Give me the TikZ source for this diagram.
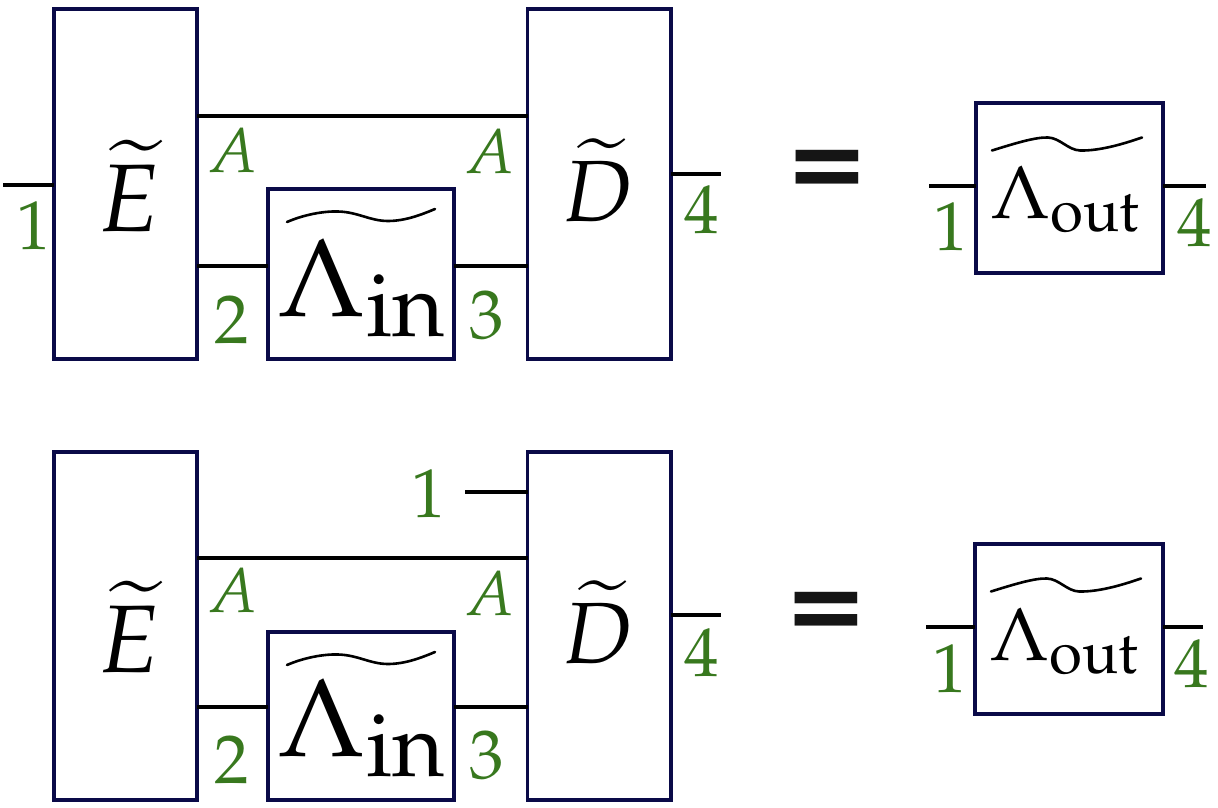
\documentclass[tikz,border=0pt]{standalone}
\usepackage[no-math]{fontspec}
\newfontfamily\eqfont{DejaVu Sans}
\usepackage{mathpazo}
\usetikzlibrary{calc}
\definecolor{boxnavy}{RGB}{10,10,72}
\definecolor{lblgreen}{RGB}{56,120,30}
\definecolor{eqblack}{RGB}{21,21,21}
\newcommand{\fsz}[1]{\fontsize{#1}{#1}\selectfont}
\newcommand{\LamIn}{{\fsz{111}$\Lambda$}\raisebox{-20pt}{\fsz{90}$\mathrm{in}$}}
\newcommand{\LamOut}{{\fsz{75}$\Lambda$}\raisebox{-13pt}{\fsz{60}$\mathrm{out}$}}
\newcommand{\tildeIn}[1]{\begin{scope}[shift={(#1.north west)}]
  \draw[tld] (19,33) .. controls (35,26) and (55,22) .. (70,22.5)
    .. controls (90,23) and (102,32) .. (120,32)
    .. controls (138,32) and (155,25) .. (167,20);\end{scope}}
\newcommand{\tildeOut}[1]{\begin{scope}[shift={(#1.north west)}]
  \draw[tld] (16,47.5) .. controls (40,40) and (60,34) .. (72,34.5)
    .. controls (84,35) and (92,47) .. (104,47.5)
    .. controls (125,48) and (150,40) .. (166,34.5);\end{scope}}
\tikzset{
  blk/.style={draw=boxnavy,line width=3.2pt,inner sep=0pt,outer sep=0pt},
  wire/.style={draw=black,line width=3.4pt},
  tld/.style={draw=black,line width=2.6pt,line cap=round},
  num/.style={text=lblgreen,inner sep=0pt,anchor=base,font=\fsz{69}},
  alabel/.style={text=lblgreen,inner sep=0pt,anchor=base,font=\fsz{63}},
  big/.style={inner sep=0pt,anchor=base},
  eqsign/.style={inner sep=0pt,text=eqblack,font=\eqfont\bfseries\fsz{100}},
}
\begin{document}
\begin{tikzpicture}[x=1pt,y=-1pt]
\useasboundingbox (0,0) rectangle (1218,808);
% ---------- top row ----------
\node[blk,minimum width=143,minimum height=350] (E1) at (125.5,184) {};
\node[blk,minimum width=186,minimum height=170] (Lin1) at (361,274) {};
\node[blk,minimum width=143.5,minimum height=350] (D1) at (599.25,184) {};
\node[blk,minimum width=187,minimum height=170] (Lout1) at (1069.5,188) {};
\node[big,font=\fsz{96}] (E1t) at (129,231) {$\widetilde{E}$};
\node[big,font=\fsz{87}] (D1t) at (597.5,221) {$\widetilde{D}$};
\node[big] (Lin1t) at (361,316) {\LamIn};
\node[big] (Lout1t) at (1065,218) {\LamOut};
\tildeIn{Lin1}
\tildeOut{Lout1}
\node[eqsign] (eq1) at (827,174.5) {=};
\coordinate (in1) at (3,185);
\coordinate (out1) at (721,174);
\coordinate (in1r) at (929,186);
\coordinate (out1r) at (1206,186);
\draw[wire] (in1) -- (E1.west |- in1);
\draw[wire] ($(E1.north east)+(0,107)$) -- ($(D1.north west)+(0,107)$);
\draw[wire] ($(E1.east |- Lin1.west)+(0,-8)$) -- ($(Lin1.west)+(0,-8)$);
\draw[wire] ($(Lin1.east)+(0,-8)$) -- ($(D1.west |- Lin1.east)+(0,-8)$);
\draw[wire] (D1.east |- out1) -- (out1);
\draw[wire] (in1r) -- (Lout1.west |- in1r);
\draw[wire] (Lout1.east |- out1r) -- (out1r);
\node[num] (l1a) at (33.5,249) {$1$};
\node[alabel] (lA1) at (233,172) {$A$};
\node[alabel] (lA2) at (490,173) {$A$};
\node[num] (l2a) at (232,343) {$2$};
\node[num] (l3a) at (486.5,338) {$3$};
\node[num] (l4a) at (702,233) {$4$};
\node[num] (l1b) at (951,250) {$1$};
\node[num] (l4b) at (1194.5,246) {$4$};
% ---------- bottom row ----------
\node[blk,minimum width=143,minimum height=348] (E2) at (125.5,626) {};
\node[blk,minimum width=186,minimum height=168] (Lin2) at (361,716) {};
\node[blk,minimum width=143.5,minimum height=348] (D2) at (599.25,626) {};
\node[blk,minimum width=188,minimum height=170] (Lout2) at (1069,629) {};
\node[big,font=\fsz{96}] (E2t) at (129,672) {$\widetilde{E}$};
\node[big,font=\fsz{87}] (D2t) at (598,663) {$\widetilde{D}$};
\node[big] (Lin2t) at (361,756) {\LamIn};
\node[big] (Lout2t) at (1064,660) {\LamOut};
\tildeIn{Lin2}
\tildeOut{Lout2}
\node[eqsign] (eq2) at (826,616) {=};
\coordinate (in2) at (465,492);
\coordinate (out2) at (721,615);
\coordinate (in2r) at (926,627);
\coordinate (out2r) at (1203,627);
\draw[wire] (in2) -- (D2.west |- in2);
\draw[wire] ($(E2.north east)+(0,106)$) -- ($(D2.north west)+(0,106)$);
\draw[wire] ($(E2.east |- Lin2.west)+(0,-9)$) -- ($(Lin2.west)+(0,-9)$);
\draw[wire] ($(Lin2.east)+(0,-9)$) -- ($(D2.west |- Lin2.east)+(0,-9)$);
\draw[wire] (D2.east |- out2) -- (out2);
\draw[wire] (in2r) -- (Lout2.west |- in2r);
\draw[wire] (Lout2.east |- out2r) -- (out2r);
\node[num] (l1c) at (428.5,517) {$1$};
\node[alabel] (lA3) at (233,612) {$A$};
\node[alabel] (lA4) at (490,615) {$A$};
\node[num] (l2c) at (232,783) {$2$};
\node[num] (l3c) at (486.5,778) {$3$};
\node[num] (l4c) at (702,676) {$4$};
\node[num] (l1d) at (950,692) {$1$};
\node[num] (l4d) at (1192,687) {$4$};
\end{tikzpicture}
\end{document}
